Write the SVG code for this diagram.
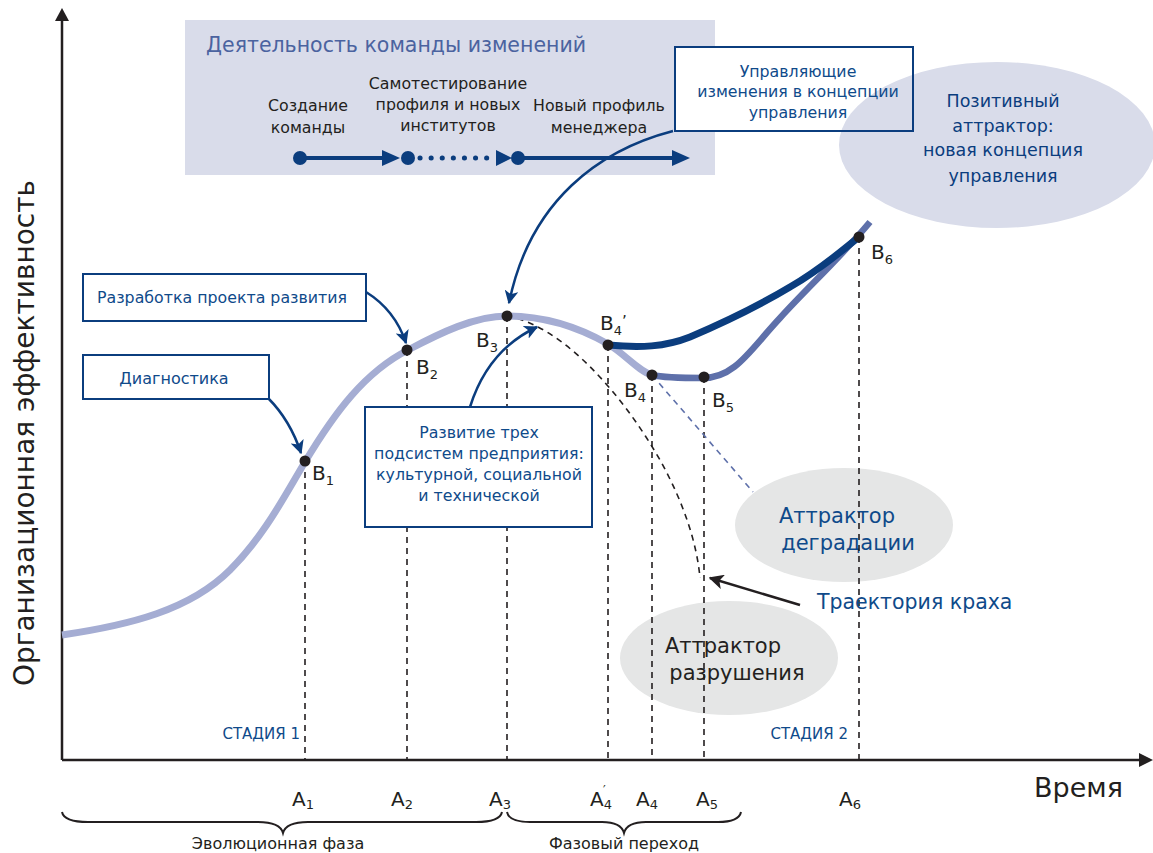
<svg xmlns="http://www.w3.org/2000/svg" width="1153" height="853" viewBox="0 0 1153 853">
<defs>
<style>
.t{font-family:"DejaVu Sans","Noto Sans",sans-serif}
.blk{fill:#231f20}
.blu{fill:#0f4a8a}
.box{fill:#fff;stroke:#0b3d7e;stroke-width:2}
.dash{stroke:#231f20;stroke-width:1.6;stroke-dasharray:6 5;fill:none}
.con{stroke:#0b3d7e;stroke-width:2.5;fill:none;marker-end:url(#ah)}
.dot{fill:#231f20}
.nd{fill:#0b3d7e}
</style>
<marker id="ah" viewBox="0 0 10 10" refX="9" refY="5" markerWidth="5.5" markerHeight="5.5" orient="auto" markerUnits="strokeWidth">
<path d="M0,0 L10,5 L0,10 L2.5,5 z" fill="#0b3d7e"/>
</marker>
<marker id="ahk" viewBox="0 0 10 10" refX="9" refY="5" markerWidth="6" markerHeight="6" orient="auto" markerUnits="strokeWidth">
<path d="M0,0 L10,5 L0,10 L2.5,5 z" fill="#231f20"/>
</marker>
</defs>
<rect width="1153" height="853" fill="#fff"/>

<!-- top activity box -->
<g id="team-activity">
<rect x="185" y="20" width="530" height="155" fill="#d9dcea"/>
<text class="t" x="206" y="52" font-size="20.5" fill="#4b63a0">Деятельность команды изменений</text>
<g class="t blk" font-size="15.8" text-anchor="middle">
<text x="308" y="111">Создание</text><text x="308" y="133">команды</text>
<text x="448" y="89">Самотестирование</text><text x="448" y="110">профиля и новых</text><text x="448" y="131">институтов</text>
<text x="599" y="111">Новый профиль</text><text x="599" y="133">менеджера</text>
</g>
<line x1="300" y1="158" x2="385" y2="158" stroke="#0b3d7e" stroke-width="4"/>
<path d="M382,150 L400,158 L382,166 z" class="nd"/>
<line x1="420" y1="158" x2="495" y2="158" stroke="#0b3d7e" stroke-width="5" stroke-dasharray="0.1 11" stroke-linecap="round"/>
<path d="M496,150 L512,158 L496,166 z" class="nd"/>
<line x1="518" y1="158" x2="675" y2="158" stroke="#0b3d7e" stroke-width="4"/>
<path d="M672,150 L690,158 L672,166 z" class="nd"/>
<circle cx="300" cy="158" r="7" class="nd"/>
<circle cx="408" cy="158" r="7" class="nd"/>
<circle cx="518" cy="158" r="7" class="nd"/>
</g>

<!-- control changes box (fill) -->
<g id="control-changes">
<rect x="675" y="47" width="238" height="84" fill="#fff"/>
</g>

<!-- attractor ellipses -->
<g id="positive-attractor">
<ellipse cx="997" cy="145" rx="158" ry="83" fill="#d9dcea"/>
<g class="t" font-size="17.5" fill="#0b3d7e" text-anchor="middle">
<text x="1003" y="107">Позитивный</text>
<text x="1003" y="132">аттрактор:</text>
<text x="1003" y="156">новая концепция</text>
<text x="1003" y="182">управления</text>
</g>
</g>
<g id="degradation-attractor">
<ellipse cx="844" cy="525" rx="109" ry="57" fill="#e5e6e6"/>
<g class="t blu" font-size="21" text-anchor="middle">
<text x="837" y="523">Аттрактор</text>
<text x="848" y="550">деградации</text>
</g>
</g>
<g id="destruction-attractor">
<ellipse cx="729" cy="658" rx="109" ry="57" fill="#e5e6e6"/>
<g class="t blk" font-size="21" text-anchor="middle">
<text x="723" y="653">Аттрактор</text>
<text x="737" y="680">разрушения</text>
</g>
</g>

<!-- control changes box stroke & text -->
<g id="control-changes-label">
<rect x="675" y="47" width="238" height="84" fill="none" stroke="#0b3d7e" stroke-width="2"/>
<g class="t blu" font-size="15.8" text-anchor="middle">
<text x="798" y="77">Управляющие</text>
<text x="798" y="97">изменения  в концепции</text>
<text x="798" y="118">управления</text>
</g>
</g>

<!-- axes -->
<g id="axes">
<line x1="62" y1="760" x2="62" y2="20" stroke="#231f20" stroke-width="2.5"/>
<path d="M55,21 L62,8 L69,21 z" fill="#231f20"/>
<line x1="62" y1="760" x2="1140" y2="760" stroke="#231f20" stroke-width="2.5"/>
<path d="M1139,753 L1153,760 L1139,767 z" fill="#231f20"/>
<text class="t blk" font-size="28" transform="translate(34,433) rotate(-90)" text-anchor="middle">Организационная  эффективность</text>
<text class="t blk" font-size="27" x="1034" y="797">Время</text>
</g>

<!-- connectors -->
<g id="connectors">
<path class="dash" d="M305,461 V760 M407,350 V760 M507,316 V760 M608,345 V760 M652,375 V760 M704,377 V760 M859,237 V760"/>
<path class="dash" d="M507,316 C560,325 620,390 660,460 C685,505 697,545 700,578"/>
<path d="M652,375 L753,492" stroke="#5e70aa" stroke-width="1.6" stroke-dasharray="6 5" fill="none"/>
<path d="M62,635 C130,625 190,610 230,570 C265,535 285,495 305,462 C335,412 365,372 408,350 C440,333 475,316 507,316 C545,316 580,328 608,344 C625,354 638,371 652,375" stroke="#a5add3" stroke-width="7" fill="none"/>
<path d="M652,375 C665,378 685,378 703,378 C735,378 750,350 780,318 C810,285 840,258 870,222" stroke="#5e70aa" stroke-width="6.5" fill="none"/>
<path d="M608,345 C640,348 665,347 690,337 C730,320 760,305 790,287 C820,270 840,252 859,237" stroke="#0b3d7e" stroke-width="7" fill="none"/>
<path class="con" d="M673,131 C600,150 530,200 509,303"/>
<path class="con" d="M366,292 Q395,310 406,343"/>
<path class="con" d="M268,398 Q290,420 301,453"/>
<path class="con" d="M470,407 Q488,350 537,327"/>
<path d="M800,605 L710,578" stroke="#231f20" stroke-width="2.5" fill="none" marker-end="url(#ahk)"/>
</g>

<!-- label boxes -->
<g id="project-dev">
<rect class="box" x="83" y="274" width="283" height="47"/>
<text class="t blu" font-size="15.8" x="97" y="303">Разработка проекта развития</text>
</g>
<g id="diagnostics">
<rect class="box" x="83" y="355" width="186" height="44"/>
<text class="t blu" font-size="16" x="174" y="384" text-anchor="middle">Диагностика</text>
</g>
<g id="subsystems">
<rect class="box" x="365" y="407" width="227" height="120"/>
<g class="t blu" font-size="15.8" text-anchor="middle">
<text x="479" y="438">Развитие  трех</text>
<text x="479" y="459">подсистем предприятия:</text>
<text x="479" y="480">культурной, социальной</text>
<text x="479" y="501">и технической</text>
</g>
</g>
<g id="crash-label">
<text class="t blu" font-size="20.5" x="817" y="609">Траектория краха</text>
</g>

<!-- points -->
<g id="points">
<circle class="dot" cx="305" cy="461" r="5.5"/>
<circle class="dot" cx="407" cy="350" r="5.5"/>
<circle class="dot" cx="507" cy="316" r="5.5"/>
<circle class="dot" cx="608" cy="345" r="5.5"/>
<circle class="dot" cx="652" cy="375" r="5.5"/>
<circle class="dot" cx="704" cy="377" r="5.5"/>
<circle class="dot" cx="859" cy="237" r="5.5"/>
<g class="t blk" font-size="20">
<text x="312" y="480">B<tspan font-size="13" dy="5">1</tspan></text>
<text x="416" y="374">B<tspan font-size="13" dy="5">2</tspan></text>
<text x="476" y="347">B<tspan font-size="13" dy="5">3</tspan></text>
<text x="600" y="330">B<tspan font-size="13" dy="5">4</tspan><tspan dy="-8" font-size="15">’</tspan></text>
<text x="624" y="397">B<tspan font-size="13" dy="5">4</tspan></text>
<text x="712" y="407">B<tspan font-size="13" dy="5">5</tspan></text>
<text x="871" y="259">B<tspan font-size="13" dy="5">6</tspan></text>
</g>
</g>

<!-- axis ticks labels -->
<g id="time-labels" class="t blk" font-size="20">
<text x="292" y="806">A<tspan font-size="13" dy="3">1</tspan></text>
<text x="391" y="806">A<tspan font-size="13" dy="3">2</tspan></text>
<text x="489" y="806">A<tspan font-size="13" dy="3">3</tspan></text>
<text x="590" y="806">A<tspan font-size="13" dy="3">4</tspan><tspan font-size="12" dx="-9" dy="-15">′</tspan></text>
<text x="636" y="806">A<tspan font-size="13" dy="3">4</tspan></text>
<text x="696" y="806">A<tspan font-size="13" dy="3">5</tspan></text>
<text x="839" y="806">A<tspan font-size="13" dy="3">6</tspan></text>
</g>
<g id="stages" class="t blu" font-size="15" text-anchor="end">
<text x="300" y="739">СТАДИЯ 1</text>
<text x="848" y="739">СТАДИЯ 2</text>
</g>

<!-- phases -->
<g id="phases">
<path d="M62,812 Q64,822 88,822 L258,822 Q280,822 283,833 Q286,822 308,822 L476,822 Q500,822 502,812" fill="none" stroke="#231f20" stroke-width="2"/>
<path d="M507,812 Q509,822 530,822 L602,822 Q621,822 624,833 Q627,822 646,822 L718,822 Q739,822 741,812" fill="none" stroke="#231f20" stroke-width="2"/>
<g class="t blk" font-size="16" text-anchor="middle">
<text x="278" y="849">Эволюционная фаза</text>
<text x="624" y="849">Фазовый переход</text>
</g>
</g>
</svg>
